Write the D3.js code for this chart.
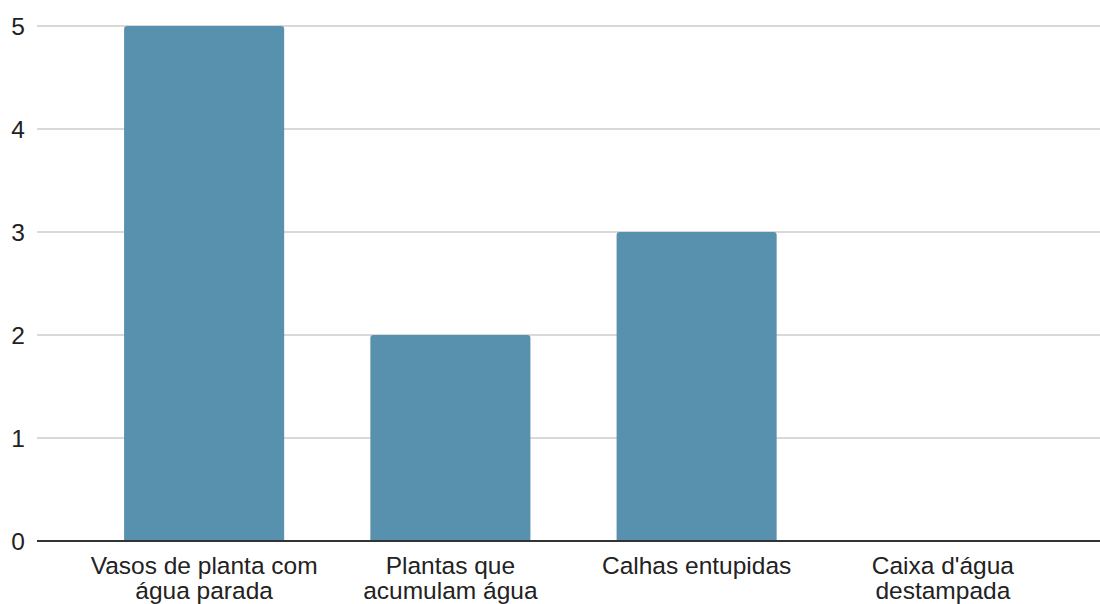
<!DOCTYPE html>
<html>
<head>
<meta charset="utf-8">
<script src="https://cdn.jsdelivr.net/npm/d3@7"></script>
<style>
  html, body { margin: 0; padding: 0; background: #fff; }
  svg { display: block; font-family: Arial, "Liberation Sans", sans-serif; }
</style>
</head>
<body>
<svg id="chart" width="1100" height="604"></svg>
<script>
// Breeding spots found (counts per category)
const categories = [
  ["Vasos de planta com", "água parada"],
  ["Plantas que", "acumulam água"],
  ["Calhas entupidas"],
  ["Caixa d'água", "destampada"]
];
const values = [5, 2, 3, 0];
const yTicks = [0, 1, 2, 3, 4, 5];

const svg = d3.select("#chart");
const plotLeft = 37, plotRight = 1100, plotTop = 26, plotBottom = 541;

const keys = categories.map(c => c.join(" "));

const x = d3.scaleBand()
  .domain(keys)
  .range([81, 1066])
  .paddingInner(0.35)
  .paddingOuter(0.175);

const y = d3.scaleLinear()
  .domain([0, 5])
  .range([plotBottom, plotTop]);

// horizontal gridlines
svg.append("g")
  .selectAll("line")
  .data(yTicks.filter(t => t !== 0))
  .join("line")
  .attr("x1", plotLeft)
  .attr("x2", plotRight)
  .attr("y1", d => y(d))
  .attr("y2", d => y(d))
  .attr("stroke", "#cccccc")
  .attr("stroke-width", 1.5);

// y tick labels
svg.append("g")
  .selectAll("text")
  .data(yTicks)
  .join("text")
  .attr("x", 25)
  .attr("y", d => y(d))
  .attr("dy", "0.36em")
  .attr("text-anchor", "end")
  .attr("font-size", 24.5)
  .attr("fill", "#222")
  .text(d => d);

// bars with slightly rounded top corners
const r = 3;
function barPath(x0, w, yTop, yBase) {
  const h = yBase - yTop;
  if (h <= 0) return "";
  const rr = Math.min(r, h, w / 2);
  return `M${x0},${yBase}V${yTop + rr}Q${x0},${yTop} ${x0 + rr},${yTop}` +
         `H${x0 + w - rr}Q${x0 + w},${yTop} ${x0 + w},${yTop + rr}V${yBase}Z`;
}

svg.append("g")
  .selectAll("path")
  .data(values.map((v, i) => ({ key: keys[i], v })))
  .join("path")
  .attr("d", d => barPath(x(d.key), x.bandwidth(), y(d.v), y(0)))
  .attr("fill", "#5891ae");

// baseline
svg.append("line")
  .attr("x1", plotLeft)
  .attr("x2", plotRight)
  .attr("y1", y(0))
  .attr("y2", y(0))
  .attr("stroke", "#333333")
  .attr("stroke-width", 2);

// category labels (wrapped over two lines)
const lab = svg.append("g")
  .selectAll("text")
  .data(categories.map((c, i) => ({ key: keys[i], lines: c })))
  .join("text")
  .attr("text-anchor", "middle")
  .attr("font-size", 24.5)
  .attr("fill", "#222");

lab.selectAll("tspan")
  .data(d => d.lines.map((t, j) => ({ t, j, cx: x(d.key) + x.bandwidth() / 2 })))
  .join("tspan")
  .attr("x", d => d.cx)
  .attr("y", d => 574 + d.j * 25)
  .text(d => d.t);
</script>
</body>
</html>
